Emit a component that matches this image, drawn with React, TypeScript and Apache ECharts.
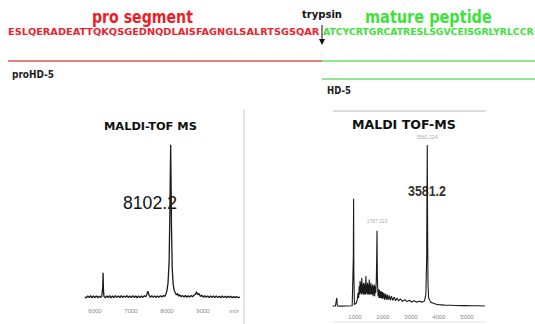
import React, { useEffect, useRef } from "react";
import * as echarts from "echarts";

// ---- data ----
const proSequence = "ESLQERADEATTQKQSGEDNQDLAISFAGNGLSALRTSGSQAR";
const matureSequence = "ATCYCRTGRCATRESLSGVCEISGRLYRLCCR";

const proTicks = [6000, 7000, 8000, 9000];
const hd5Ticks = [1000, 2000, 3000, 4000, 5000];

const proPeakLabel = "8102.2";
const hd5PeakLabel = "3581.2";
const hd5MainPeakTag = "3581.224";
const hd5MinorPeakTag = "1787.113";

// proHD-5 spectrum: [m/z, relative intensity]
const proSpectrum: [number, number][] = [
  [5720, 2.0], [5760, 1.3], [5800, 2.6], [5840, 1.5], [5880, 2.7], [5920, 1.4], [5960, 2.5], [6000, 1.5],
  [6040, 2.6], [6080, 1.4], [6120, 2.4], [6160, 1.6], [6190, 2.5], [6215, 8], [6225, 17], [6235, 6],
  [6250, 2.2], [6290, 1.4], [6330, 2.6], [6370, 1.5], [6410, 2.7], [6450, 1.4], [6490, 2.5], [6530, 1.5],
  [6570, 2.8], [6610, 1.6], [6650, 2.6], [6690, 1.5], [6730, 2.8], [6770, 1.5], [6810, 2.6], [6850, 1.6],
  [6890, 2.8], [6930, 1.5], [6970, 2.6], [7010, 1.5], [7050, 2.7], [7090, 1.6], [7130, 2.5], [7170, 1.4],
  [7210, 2.6], [7250, 1.5], [7290, 2.5], [7330, 1.6], [7370, 2.7], [7410, 2.0], [7440, 3.5], [7470, 5.5],
  [7500, 3.0], [7540, 1.7], [7580, 2.7], [7620, 1.6], [7660, 2.6], [7700, 1.5], [7740, 2.6], [7780, 1.6],
  [7820, 2.7], [7860, 1.8], [7900, 2.8], [7940, 2.2], [7970, 3.8], [8000, 6], [8030, 11], [8060, 25],
  [8080, 55], [8095, 85], [8102, 97], [8110, 80], [8125, 45], [8145, 20], [8170, 10], [8200, 6],
  [8230, 4.5], [8260, 3.2], [8290, 4.0], [8320, 2.4], [8350, 3.3], [8390, 2.0], [8430, 2.9], [8470, 1.8],
  [8510, 2.8], [8550, 1.7], [8590, 2.7], [8630, 1.8], [8670, 2.8], [8710, 2.0], [8750, 3.0], [8790, 3.6],
  [8820, 5.2], [8850, 3.2], [8890, 4.0], [8930, 2.2], [8970, 3.0], [9010, 1.7], [9050, 2.7], [9090, 1.6],
  [9130, 2.6], [9170, 1.5], [9210, 2.6], [9250, 1.6], [9290, 2.5], [9330, 1.5], [9370, 2.6], [9410, 1.5],
  [9450, 2.4], [9490, 1.4], [9530, 2.5], [9570, 1.5], [9610, 2.4], [9650, 1.4], [9690, 2.3], [9730, 1.5],
  [9770, 2.3], [9810, 1.4], [9850, 2.2], [9890, 1.4], [9930, 2.2], [9970, 1.5], [10030, 1.8],
];

// HD-5 spectrum: [m/z, relative intensity]
const hd5Spectrum: [number, number][] = [
  [200, 1.2], [300, 1.2], [350, 6], [370, 1.2], [500, 1.1], [700, 1.2], [900, 1.3], [940, 30],
  [950, 65], [960, 20], [980, 2], [1000, 2], [1050, 3], [1080, 5], [1110, 9], [1130, 6],
  [1150, 13], [1165, 8], [1180, 16], [1195, 9], [1210, 15], [1225, 8], [1240, 18], [1255, 9],
  [1270, 14], [1285, 8], [1300, 15], [1315, 8], [1330, 14], [1345, 8], [1360, 15], [1375, 8],
  [1390, 19], [1405, 9], [1420, 14], [1435, 8], [1450, 15], [1465, 8], [1480, 14], [1495, 8],
  [1510, 17], [1525, 8], [1540, 14], [1555, 8], [1570, 15], [1585, 8], [1600, 13], [1615, 8],
  [1630, 14], [1645, 7], [1660, 13], [1675, 8], [1690, 14], [1705, 7], [1720, 13], [1740, 9],
  [1760, 16], [1775, 30], [1787, 46], [1797, 20], [1810, 12], [1825, 7], [1840, 11], [1855, 6],
  [1870, 11], [1885, 6], [1900, 10], [1920, 6], [1940, 10], [1960, 5.5], [1980, 9.5], [2000, 5.5],
  [2030, 9], [2060, 5], [2090, 8.5], [2120, 5], [2150, 8], [2180, 4.8], [2220, 7.5], [2260, 4.6],
  [2300, 7], [2350, 4.5], [2400, 6.5], [2450, 4.3], [2500, 6], [2560, 4.2], [2620, 5.5], [2700, 4.0],
  [2780, 5], [2860, 3.8], [2940, 4.6], [3020, 3.6], [3100, 4.3], [3200, 3.5], [3300, 4.0], [3400, 3.5],
  [3480, 4.2], [3530, 8], [3560, 30], [3575, 80], [3581, 97], [3590, 60], [3605, 15], [3630, 6],
  [3660, 5], [3700, 3.5], [3800, 2.8], [3900, 2.2], [4000, 2], [4200, 1.7], [4400, 1.6], [4600, 1.5],
  [4800, 1.4], [5000, 1.4], [5200, 1.3], [5400, 1.3], [5640, 1.2],
];

function measure(text: string, font: string): number {
  const c = document.createElement("canvas").getContext("2d");
  if (!c) return text.length * 7;
  c.font = font;
  return c.measureText(text).width || text.length * 7;
}

function fitText(text: string, font: string, x: number, y: number, width: number, fill: string) {
  const w = measure(text, font);
  return {
    type: "text",
    x,
    y,
    scaleX: width / w,
    silent: true,
    style: { text, font, fill, textAlign: "left", textVerticalAlign: "middle" },
  };
}

export default function App() {
  const ref = useRef<HTMLDivElement>(null);

  useEffect(() => {
    document.body.style.margin = "0";
    if (!ref.current) return;
    const chart = echarts.init(ref.current, null, { renderer: "svg" });

    const hand = "'DejaVu Sans', sans-serif";
    const arial = "'Liberation Sans', Arial, sans-serif";

    const graphics: any[] = [
      fitText("pro segment", `bold 18px ${hand}`, 92, 17, 101, "#ef1d26"),
      fitText("mature peptide", `bold 18px ${hand}`, 365, 17, 127, "#3ee23a"),
      fitText("trypsin", `bold 11px ${hand}`, 302, 14, 40, "#111"),
      fitText(proSequence, `bold 9px ${hand}`, 8, 32, 312, "#e8242c"),
      fitText(matureSequence, `bold 9px ${hand}`, 323, 32, 211, "#3ee23a"),
      { type: "line", silent: true, shape: { x1: 322, y1: 25, x2: 322, y2: 40 }, style: { stroke: "#111", lineWidth: 1 } },
      { type: "polygon", silent: true, shape: { points: [[319, 39], [325, 39], [322, 45]] }, style: { fill: "#111" } },
      { type: "line", silent: true, shape: { x1: 8, y1: 61, x2: 322, y2: 61 }, style: { stroke: "#e57f7f", lineWidth: 2 } },
      { type: "line", silent: true, shape: { x1: 322, y1: 61, x2: 535, y2: 61 }, style: { stroke: "#93e493", lineWidth: 2 } },
      { type: "line", silent: true, shape: { x1: 322, y1: 79, x2: 535, y2: 79 }, style: { stroke: "#93e493", lineWidth: 2 } },
      fitText("proHD-5", `bold 10px ${hand}`, 12, 74, 42, "#222"),
      fitText("HD-5", `bold 10px ${hand}`, 327, 90, 24, "#222"),
      fitText("MALDI-TOF MS", `bold 11px ${hand}`, 104, 127, 93, "#111"),
      fitText("MALDI TOF-MS", `bold 13px ${hand}`, 352, 124, 104, "#111"),
      fitText(proPeakLabel, `19px ${arial}`, 123, 202, 54, "#111"),
      fitText(hd5PeakLabel, `bold 14px ${arial}`, 408, 191, 38, "#333"),
      {
        type: "text", silent: true, x: 427, y: 137,
        style: { text: hd5MainPeakTag, font: `5px ${arial}`, fill: "#aaa", textAlign: "center", textVerticalAlign: "middle" },
      },
      {
        type: "text", silent: true, x: 377, y: 221,
        style: { text: hd5MinorPeakTag, font: `5px ${arial}`, fill: "#aaa", textAlign: "center", textVerticalAlign: "middle" },
      },
      {
        type: "text", silent: true, x: 234, y: 311,
        style: { text: "m/z", font: `6px ${arial}`, fill: "#888", textAlign: "center", textVerticalAlign: "middle" },
      },
      { type: "line", silent: true, shape: { x1: 244, y1: 110, x2: 244, y2: 324 }, style: { stroke: "#c8c8c8", lineWidth: 1 } },
      { type: "line", silent: true, shape: { x1: 333, y1: 111, x2: 486, y2: 111 }, style: { stroke: "#d0d0d0", lineWidth: 1.5 } },
      { type: "line", silent: true, shape: { x1: 333, y1: 322, x2: 486, y2: 322 }, style: { stroke: "#e4e4e4", lineWidth: 1 } },
    ];

    const xAxisCommon = {
      type: "value",
      interval: 1000,
      axisLine: { show: false },
      axisTick: { show: false },
      splitLine: { show: false },
    };

    chart.setOption({
      animation: false,
      backgroundColor: "#ffffff",
      grid: [
        { left: 59, width: 183.6, top: 140, height: 160 },
        { left: 327, width: 159.6, top: 140, height: 168 },
      ],
      xAxis: [
        {
          ...xAxisCommon,
          gridIndex: 0,
          min: 5000,
          max: 10100,
          axisLabel: {
            margin: 8,
            fontSize: 6,
            color: "#888",
            formatter: (v: number) => (proTicks.includes(v) ? String(v) : ""),
          },
        },
        {
          ...xAxisCommon,
          gridIndex: 1,
          min: 0,
          max: 5700,
          axisLabel: {
            margin: 6,
            fontSize: 6,
            color: "#888",
            formatter: (v: number) => (hd5Ticks.includes(v) ? String(v) : ""),
          },
        },
      ],
      yAxis: [
        { type: "value", gridIndex: 0, min: 0, max: 100, show: false },
        { type: "value", gridIndex: 1, min: 0, max: 100, show: false },
      ],
      series: [
        {
          type: "line",
          xAxisIndex: 0,
          yAxisIndex: 0,
          showSymbol: false,
          silent: true,
          lineStyle: { color: "#1a1a1a", width: 1.3 },
          data: proSpectrum,
        },
        {
          type: "line",
          xAxisIndex: 1,
          yAxisIndex: 1,
          showSymbol: false,
          silent: true,
          lineStyle: { color: "#1a1a1a", width: 1.1 },
          data: hd5Spectrum,
        },
      ],
      graphic: graphics,
    });

    return () => chart.dispose();
  }, []);

  return <div ref={ref} style={{ width: 535, height: 324 }} />;
}
